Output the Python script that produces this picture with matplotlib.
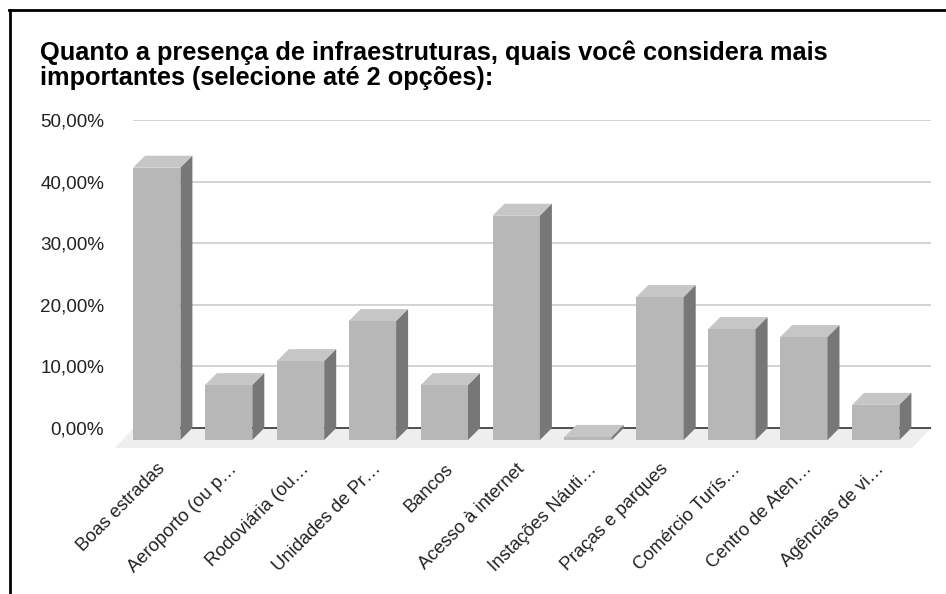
import matplotlib
matplotlib.use('Agg')
import matplotlib.pyplot as plt

plt.rcParams['font.family'] = ['Liberation Sans', 'DejaVu Sans']

TITLE = 'Quanto a presença de infraestruturas, quais você considera mais\nimportantes (selecione até 2 opções):'
categories = ['Boas estradas', 'Aeroporto (ou p…', 'Rodoviária (ou…', 'Unidades de Pr…', 'Bancos',
              'Acesso à internet', 'Instações Náuti…', 'Praças e parques', 'Comércio Turís…',
              'Centro de Aten…', 'Agências de vi…']
values = [44.2, 8.9, 12.8, 19.3, 8.9, 36.4, 0.5, 23.2, 18.0, 16.7, 5.7]
y_ticks = [0, 10, 20, 30, 40, 50]
y_tick_labels = ['0,00%', '10,00%', '20,00%', '30,00%', '40,00%', '50,00%']

W, H = 946, 594
PX_X = 71.9   # pixels per category
PX_Y = 6.16   # pixels per percent
X0 = 156.7    # pixel of first bar's front centre
Y0 = 428      # pixel of the zero line
LEFT, RIGHT = 115, 931
BOTTOM = 448

fig = plt.figure(figsize=(W / 100, H / 100), dpi=100)

# black frame of the screenshot, open on the right and at the bottom
fig.add_artist(plt.Line2D([10 / W, 10 / W], [0, 1 - 10 / H], color='black', lw=2))
fig.add_artist(plt.Line2D([9 / W, 1], [1 - 10 / H, 1 - 10 / H], color='black', lw=2))

ax = fig.add_axes([LEFT / W, 1 - BOTTOM / H, (RIGHT - LEFT) / W, (BOTTOM - 120) / H])
ax.set_xlim((LEFT - X0) / PX_X, (RIGHT - X0) / PX_X)
ax.set_ylim((Y0 - BOTTOM) / PX_Y, 50)
for side in ax.spines.values():
    side.set_visible(False)

dx = 12 / PX_X
dy = 12 / PX_Y
half = 23.7 / PX_X
x_back_left = (133 - X0) / PX_X

# floor
ax.fill([(LEFT - X0) / PX_X, (133.5 - X0) / PX_X, (RIGHT - X0) / PX_X, (912 - X0) / PX_X],
        [(Y0 - BOTTOM) / PX_Y, 0, 0, (Y0 - BOTTOM) / PX_Y], color='#eeeeee', lw=0, zorder=1)

for t in y_ticks[1:]:
    ax.plot([x_back_left, (RIGHT - X0) / PX_X], [t, t], color='#cccccc', lw=1.2, zorder=2,
            solid_capstyle='butt')
ax.plot([x_back_left, (RIGHT - X0) / PX_X], [0, 0], color='#333333', lw=1.2, zorder=2,
        solid_capstyle='butt')

for i, v in enumerate(values):
    l, r = i - half, i + half
    # the front face sits one depth step below the back of the bar
    ax.fill([l, r, r, l], [-dy, -dy, v - dy, v - dy], color='#b7b7b7', lw=0, zorder=3)
    ax.fill([l, r, r + dx, l + dx], [v - dy, v - dy, v, v], color='#c6c6c6', lw=0, zorder=3)
    ax.fill([r, r + dx, r + dx, r], [-dy, 0, v, v - dy], color='#777777', lw=0, zorder=3)

ax.set_xticks(range(len(categories)))
ax.set_xticklabels(categories, rotation=45, ha='right', va='top', rotation_mode='anchor',
                   fontsize=13.2, color='#222222')
ax.set_yticks(y_ticks)
ax.set_yticklabels(y_tick_labels, fontsize=13.6, color='#222222')
ax.tick_params(axis='both', length=0)
ax.tick_params(axis='x', pad=9)
ax.tick_params(axis='y', pad=7.9)

fig.text(40 / W, 1 - 65 / H, TITLE, fontsize=18.3, fontweight='bold', color='black',
         ha='left', va='center', linespacing=1.06)

fig.savefig('out.png', dpi=100)
